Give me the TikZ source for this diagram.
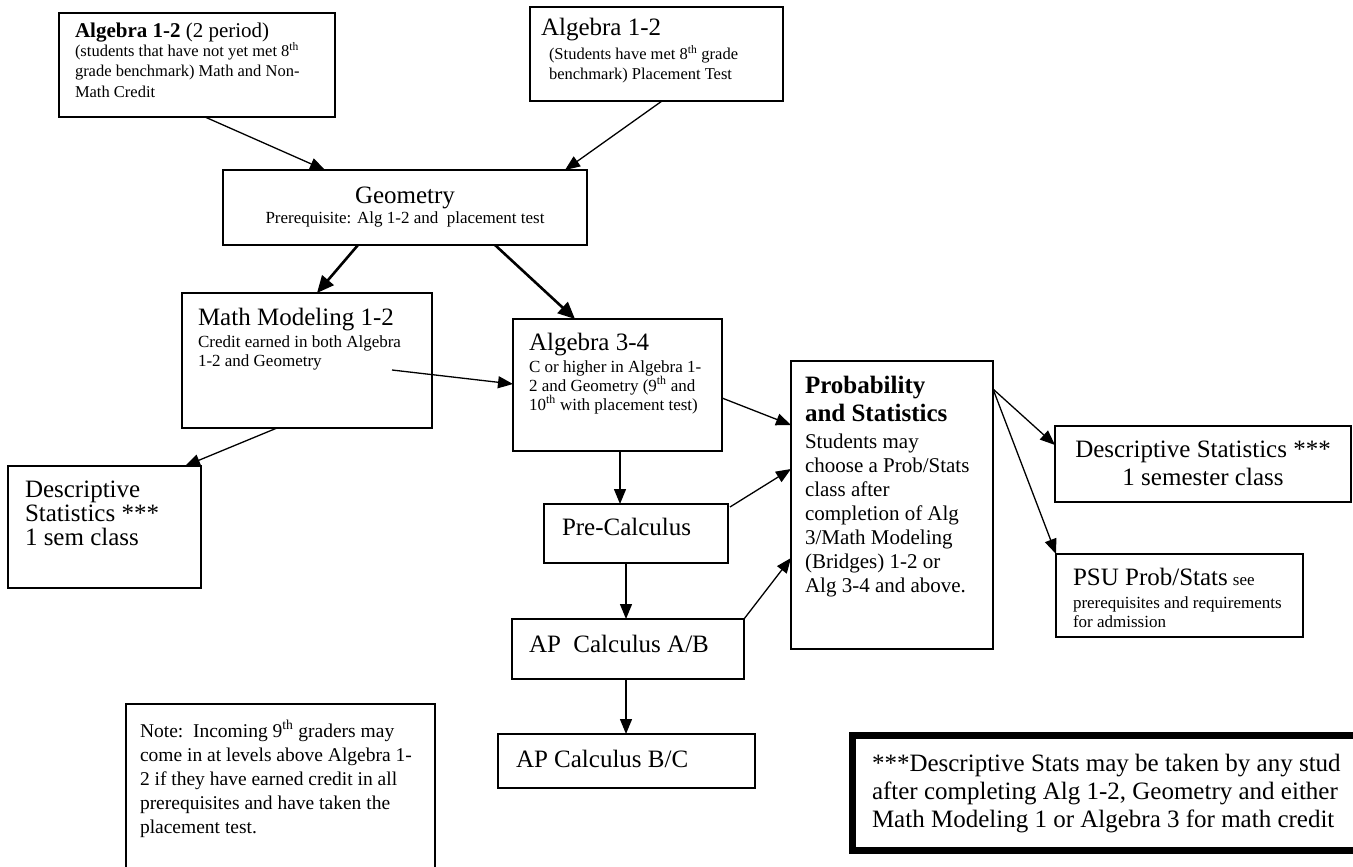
\documentclass[tikz,border=0pt]{standalone}
\usepackage{fontspec}
\setmainfont{Liberation Serif}
\usetikzlibrary{arrows.meta}
\newcommand\fz[1]{\fontsize{#1pt}{#1pt}\selectfont}
\begin{document}
\begin{tikzpicture}[x=1pt,y=-1pt,
 box/.style={draw, line width=1.4pt, inner sep=0pt, outer sep=0pt, anchor=north west},
 txt/.style={anchor=base west, inner sep=0pt, outer sep=0pt},
 ctxt/.style={anchor=base, inner sep=0pt, outer sep=0pt},
 arr/.style={line width=1.3pt, -{Triangle[length=15pt,width=12pt]}},
 tarr/.style={line width=2.6pt, -{Triangle[length=17pt,width=15pt]}},
 L/.style={font=\fz{25}}, S/.style={font=\fz{17}}]
\useasboundingbox (0,0) rectangle (1353,867);
\clip (0,0) rectangle (1353,867);
\fill[white] (0,0) rectangle (1353,867);

% boxes
\node[box, minimum width=276pt, minimum height=104pt] (A) at (59,13) {};
\node[box, minimum width=253pt, minimum height=94pt] (B) at (530,7) {};
\node[box, minimum width=364pt, minimum height=75pt] (G) at (223,170) {};
\node[box, minimum width=250pt, minimum height=135pt] (MM) at (182,293) {};
\node[box, minimum width=209pt, minimum height=132pt] (A34) at (513,319) {};
\node[box, minimum width=184pt, minimum height=59pt] (PC) at (544,504) {};
\node[box, minimum width=232pt, minimum height=60pt] (AB) at (512,619) {};
\node[box, minimum width=257pt, minimum height=54pt] (BC) at (498,734) {};
\node[box, minimum width=202pt, minimum height=288pt] (PS) at (791,361) {};
\node[box, minimum width=296pt, minimum height=76pt] (DR) at (1055,426) {};
\node[box, minimum width=247pt, minimum height=83pt] (PSU) at (1056,554) {};
\node[box, minimum width=193pt, minimum height=122pt] (DL) at (8,466) {};
\node[box, minimum width=309pt, minimum height=220pt] (NT) at (126,704) {};
\node[box, line width=7pt, minimum width=600pt, minimum height=115pt] (BR) at (852.5,735.5) {};

% texts
\node[txt] (tA1) at (75,38) {\fz{21}\textbf{Algebra 1-2} (2 period)};
\node[txt] (tA2) at (75,57) {\fz{16.5}(students that have not yet met 8\textsuperscript{th}};
\node[txt] (tA3) at (75,77) {\fz{16.5}grade benchmark) Math and Non-};
\node[txt] (tA4) at (75,97) {\fz{16.5}Math Credit};

\node[txt, L] (tB1) at (541,36) {Algebra 1-2};
\node[txt] (tB2) at (549,60) {\fz{16.5}(Students have met\ 8\textsuperscript{th} grade};
\node[txt] (tB3) at (549,80) {\fz{16.5}benchmark) Placement Test};

\node[ctxt, L] (tG1) at (405,203) {Geometry};
\node[ctxt, S] (tG2) at (405,223) {Prerequisite: Alg 1-2 and\ \ placement test};

\node[txt, L] (tM1) at (198,325) {Math Modeling 1-2};
\node[txt, S] (tM2) at (198,347) {Credit earned in both Algebra};
\node[txt, S] (tM3) at (198,366) {1-2 and Geometry};

\node[txt, L] (tC1) at (529,350) {Algebra 3-4};
\node[txt, S] (tC2) at (529,372) {C or higher in Algebra 1-};
\node[txt, S] (tC3) at (529,391) {2 and Geometry (9\textsuperscript{th} and};
\node[txt, S] (tC4) at (529,410) {10\textsuperscript{th} with placement test)};

\node[txt, L] (tP1) at (562,535) {Pre-Calculus};
\node[txt, L] (tAB) at (529,652) {AP\ \ Calculus A/B};
\node[txt, L] (tBC) at (516,767) {AP Calculus B/C};

\node[txt, L] (tS1) at (805,393) {\textbf{Probability}};
\node[txt, L] (tS2) at (805,421) {\textbf{and Statistics}};
\node[txt] (tS3) at (805,448) {\fz{21}Students may};
\node[txt] (tS4) at (805,472) {\fz{21}choose a Prob/Stats};
\node[txt] (tS5) at (805,496) {\fz{21}class after};
\node[txt] (tS6) at (805,520) {\fz{21}completion of Alg};
\node[txt] (tS7) at (805,544) {\fz{21}3/Math Modeling};
\node[txt] (tS8) at (805,568) {\fz{21}(Bridges) 1-2 or};
\node[txt] (tS9) at (805,592) {\fz{21}Alg 3-4 and above.};

\node[ctxt, L] (tD1) at (1203,457) {Descriptive Statistics ***};
\node[ctxt, L] (tD2) at (1203,485) {1 semester class};

\node[txt] (tU1) at (1073,585) {{\fz{25}PSU Prob/Stats}\ \ {\fz{17}see}};
\node[txt, S] (tU2) at (1073,608) {prerequisites and requirements};
\node[txt, S] (tU3) at (1073,627) {for admission};

\node[txt, L] (tL1) at (25,497) {Descriptive};
\node[txt, L] (tL2) at (25,521) {Statistics ***};
\node[txt, L] (tL3) at (25,545) {1 sem class};

\node[txt] (tN1) at (140,737) {\fz{19.5}Note:\ \ Incoming 9\textsuperscript{th} graders may};
\node[txt] (tN2) at (140,761) {\fz{19.5}come in at levels above Algebra 1-};
\node[txt] (tN3) at (140,785) {\fz{19.5}2 if they have earned credit in all};
\node[txt] (tN4) at (140,809) {\fz{19.5}prerequisites and have taken the};
\node[txt] (tN5) at (140,833) {\fz{19.5}placement test.};

\node[txt, L] (tR1) at (872,771) {***Descriptive Stats may be taken by any stud};
\node[txt, L] (tR2) at (872,799) {after completing Alg 1-2, Geometry and either};
\node[txt, L] (tR3) at (872,827) {Math Modeling 1 or Algebra 3 for math credit};

% connectors
\draw[arr] ([xshift=146pt]A.south west) -- ([xshift=102pt]G.north west);
\draw[arr] ([xshift=132pt]B.south west) -- ([xshift=342pt]G.north west);
\draw[tarr] ([xshift=135pt]G.south west) -- ([xshift=135pt]MM.north west);
\draw[tarr] ([xshift=272pt]G.south west) -- ([xshift=62pt]A34.north west);
\draw[arr] ([shift={(210pt,-77pt)}]MM.north west) -- ([yshift=-65pt]A34.north west);
\draw[arr] ([xshift=95pt]MM.south west) -- ([xshift=177pt]DL.north west);
\draw[arr] ([yshift=-79pt]A34.north east) -- ([yshift=-64pt]PS.north west);
\draw[arr] ([xshift=107pt]A34.south west) -- ([xshift=76pt]PC.north west);
\draw[arr] ([shift={(2pt,-3pt)}]PC.north east) -- ([yshift=-108pt]PS.north west);
\draw[arr] ([xshift=82pt]PC.south west) -- ([xshift=114pt]AB.north west);
\draw[arr] (AB.north east) -- ([yshift=-197pt]PS.north west);
\draw[arr] ([xshift=114pt]AB.south west) -- ([xshift=128pt]BC.north west);
\draw[arr] ([yshift=-28pt]PS.north east) -- ([yshift=-19pt]DR.north west);
\draw[arr] ([yshift=-28pt]PS.north east) -- (PSU.north west);
\end{tikzpicture}
\end{document}
